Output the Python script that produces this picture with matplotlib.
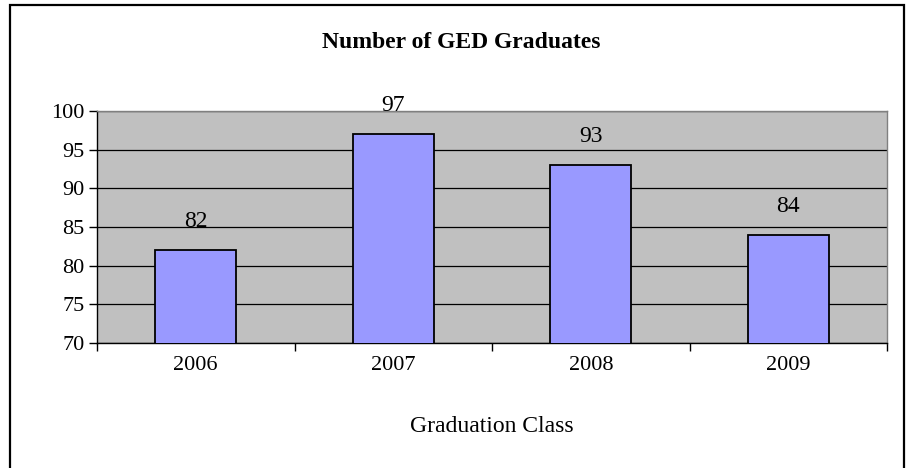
import matplotlib
matplotlib.use("Agg")
import matplotlib.pyplot as plt
from matplotlib.patches import Rectangle

#### data ####
years = ["2006", "2007", "2008", "2009"]
graduates = [82, 97, 93, 84]
y_ticks = [70, 75, 80, 85, 90, 95, 100]

#### style ####
plt.rcParams['font.family'] = ['Liberation Serif', 'DejaVu Serif']
FS = 16

W, H = 907, 468
fig = plt.figure(figsize=(W / 100, H / 100), dpi=100)
fig.patch.set_facecolor('white')

# outer chart border (bottom edge runs off the image)
fig.patches.append(Rectangle((10 / W, -0.02), 894 / W, 1.02 - 5 / H,
                             transform=fig.transFigure, fill=False,
                             edgecolor='black', linewidth=1.6))

ax = fig.add_axes([97 / W, 1 - 343 / H, 790 / W, 232 / H])
ax.set_facecolor('#C0C0C0')

x = list(range(len(years)))
ax.bar(x, graduates, width=0.41, color='#9999FF', edgecolor='black',
       linewidth=1.3, zorder=3)

for xi, v in zip(x, graduates):
    ax.annotate(str(v), (xi, v), xytext=(0, 13), textcoords='offset points',
                ha='center', va='bottom', fontsize=17, zorder=4)

ax.set_ylim(70, 100)
ax.set_xlim(-0.5, len(years) - 0.5)
ax.set_yticks(y_ticks)
ax.yaxis.grid(True, color='black', linewidth=0.9, zorder=1)
ax.set_axisbelow(True)

# category boundaries get the tick marks, labels sit at centres
ax.set_xticks([i - 0.5 for i in range(len(years) + 1)])
ax.set_xticklabels([])
ax.set_xticks(x, minor=True)
ax.set_xticklabels(years, minor=True)
ax.tick_params(axis='x', which='major', direction='out', length=6, width=1)
ax.tick_params(axis='x', which='minor', length=0, pad=9, labelsize=FS)
ax.tick_params(axis='y', direction='out', length=6, width=1, pad=3, labelsize=FS)

for s in ['left', 'bottom']:
    ax.spines[s].set_color('black')
    ax.spines[s].set_linewidth(1)
for s in ['top', 'right']:
    ax.spines[s].set_color('#808080')
    ax.spines[s].set_linewidth(1)

ax.set_xlabel('Graduation Class', fontsize=17, labelpad=30)
fig.text(461 / W, 1 - 42 / H, 'Number of GED Graduates', ha='center',
         va='center', fontsize=17, fontweight='bold')

fig.savefig('out.png', dpi=100)
